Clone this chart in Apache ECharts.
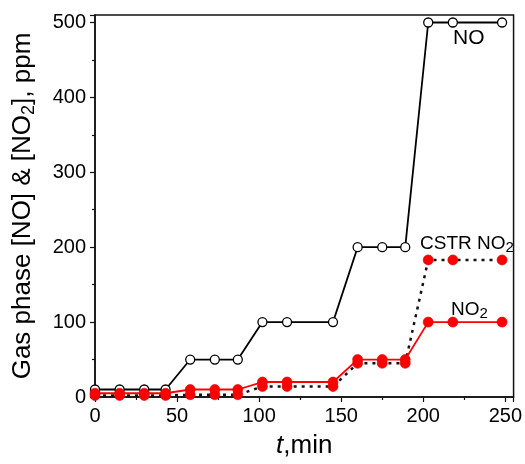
<!DOCTYPE html>
<html>
<head>
<meta charset="utf-8">
<script src="https://cdn.jsdelivr.net/npm/echarts@6/dist/echarts.min.js"></script>
<style>
  html, body { margin: 0; padding: 0; background: #fff; }
  #chart { width: 525px; height: 464px; }
</style>
</head>
<body>
<div id="chart"></div>
<script>
// time points, min
const times = [0, 15, 30, 43, 58, 73, 87, 102, 117, 145, 160, 175, 189, 203, 218, 248];
// gas phase concentrations, ppm
const noValues   = [10, 10, 10, 10, 50, 50, 50, 100, 100, 100, 200, 200, 200, 500, 500, 500];
const no2Values  = [5, 5, 5, 5, 10, 10, 10, 20, 20, 20, 50, 50, 50, 100, 100, 100];
const cstrValues = [2, 2, 2, 2, 3, 3, 3, 14, 14, 14, 45, 45, 45, 183, 183, 183];

const pair = (xs, ys) => xs.map((x, i) => [x, ys[i]]);

const FONT = 'Liberation Sans, Arial, sans-serif';
const chart = echarts.init(document.getElementById('chart'));

const subRich = {
  sub: { fontSize: 15, fontFamily: FONT, color: '#000', verticalAlign: 'bottom', lineHeight: 15 }
};

const option = {
  animation: false,
  grid: {
    left: 92.5, right: 10.7, top: 15, bottom: 56.3,
    show: true, borderColor: '#111', borderWidth: 1.5, backgroundColor: 'transparent'
  },
  xAxis: {
    type: 'value',
    min: 0, max: 255, interval: 50,
    name: '{i|t},min',
    nameLocation: 'middle',
    nameGap: 36,
    nameTextStyle: {
      fontSize: 26, fontFamily: FONT, color: '#000',
      rich: { i: { fontSize: 26, fontFamily: FONT, fontStyle: 'italic', color: '#000' } }
    },
    axisLine: { show: true, lineStyle: { color: '#111', width: 1.5 } },
    axisTick: { show: true, inside: false, length: 5, lineStyle: { color: '#111', width: 1.2 } },
    minorTick: { show: true, splitNumber: 2, length: 3, lineStyle: { color: '#111', width: 1.2 } },
    splitLine: { show: false },
    axisLabel: { fontSize: 20, fontFamily: FONT, color: '#000', margin: 9, showMaxLabel: false }
  },
  yAxis: {
    type: 'value',
    min: 0, max: 510, interval: 100,
    name: 'Gas phase [NO] & [NO{sub|2}], ppm',
    nameLocation: 'middle',
    nameGap: 57,
    nameTextStyle: {
      fontSize: 26, fontFamily: FONT, color: '#000', lineHeight: 30,
      rich: {
        sub: { fontSize: 18, fontFamily: FONT, color: '#000', verticalAlign: 'bottom', lineHeight: 18 }
      }
    },
    axisLine: { show: true, lineStyle: { color: '#111', width: 1.5 } },
    axisTick: { show: true, inside: false, length: 5, lineStyle: { color: '#111', width: 1.2 } },
    minorTick: { show: true, splitNumber: 2, length: 3, lineStyle: { color: '#111', width: 1.2 } },
    splitLine: { show: false },
    axisLabel: { fontSize: 20, fontFamily: FONT, color: '#000', margin: 9, showMaxLabel: false }
  },
  series: [
    {
      name: 'NO',
      type: 'line',
      data: pair(times, noValues),
      symbol: 'circle',
      symbolSize: 9,
      lineStyle: { color: '#000', width: 1.8 },
      itemStyle: { color: '#fff', borderColor: '#000', borderWidth: 1.3 },
      z: 2
    },
    {
      name: 'CSTR NO2',
      type: 'line',
      data: pair(times, cstrValues),
      symbol: 'circle',
      symbolSize: 10,
      lineStyle: { color: '#111', width: 2.5, type: [3, 5] },
      itemStyle: { color: '#ff0000', borderColor: '#cc0000', borderWidth: 0.6 },
      z: 3
    },
    {
      name: 'NO2',
      type: 'line',
      data: pair(times, no2Values),
      symbol: 'circle',
      symbolSize: 10,
      lineStyle: { color: '#ff0000', width: 1.8 },
      itemStyle: { color: '#ff0000', borderColor: '#dd0000', borderWidth: 0.6 },
      z: 4
    }
  ],
  graphic: [
    {
      type: 'text', left: 453, top: 28,
      style: { text: 'NO', fontSize: 21, fontFamily: FONT, fill: '#000' }
    },
    {
      type: 'text', left: 420, top: 233,
      style: {
        text: 'CSTR NO{sub|2}', fontSize: 19, fontFamily: FONT, fill: '#000', lineHeight: 22,
        rich: subRich
      }
    },
    {
      type: 'text', left: 451, top: 299,
      style: {
        text: 'NO{sub|2}', fontSize: 19, fontFamily: FONT, fill: '#000', lineHeight: 22,
        rich: subRich
      }
    }
  ]
};

chart.setOption(option);
</script>
</body>
</html>
